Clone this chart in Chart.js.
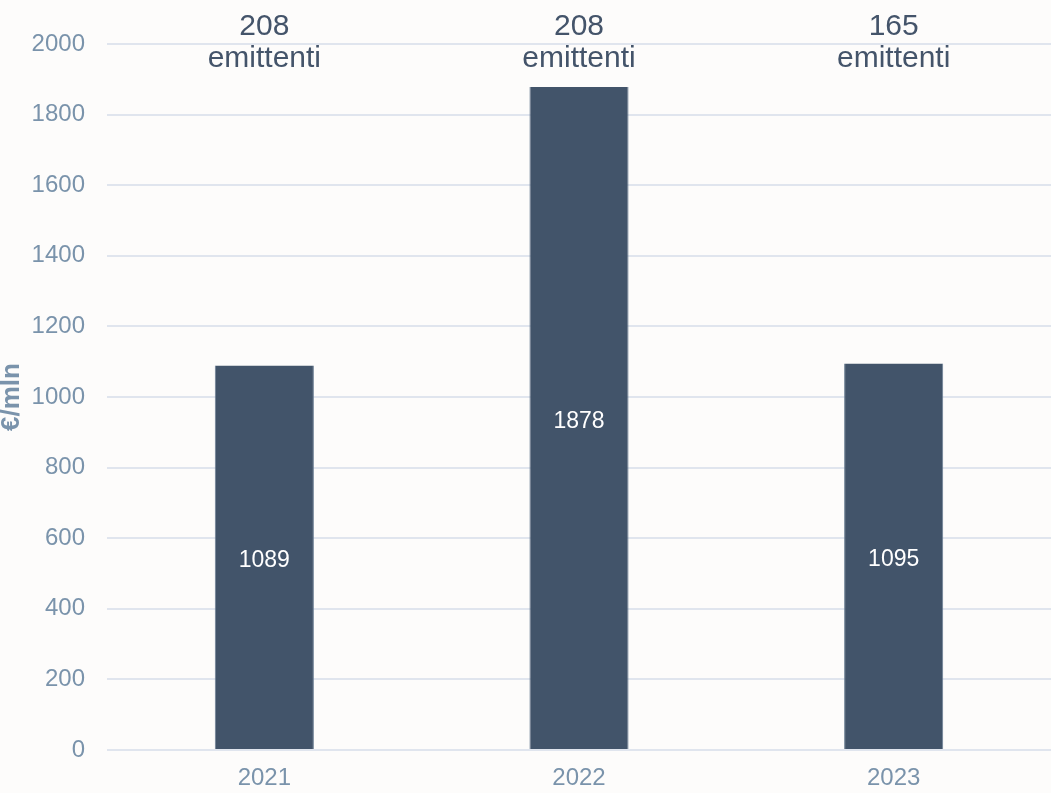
<!DOCTYPE html>
<html>
<head>
<meta charset="utf-8">
<script src="https://cdn.jsdelivr.net/npm/chart.js@4/dist/chart.umd.min.js"></script>
<style>
  html, body { margin: 0; padding: 0; background: #fdfcfb; }
  #wrap { width: 1051px; height: 793px; }
</style>
</head>
<body>
<div id="wrap"><canvas id="chart"></canvas></div>
<script>
const years = ['2021', '2022', '2023'];
const amounts = [1089, 1878, 1095];
const issuers = [208, 208, 165];

const FONT = '"Liberation Sans", Arial, sans-serif';

// numbers inside the bars + issuer count on top
const labelsPlugin = {
  id: 'labels',
  afterDatasetsDraw(chart) {
    const ctx = chart.ctx;
    const meta = chart.getDatasetMeta(0);
    const x = chart.scales.x;
    const y = chart.scales.y;
    ctx.save();
    ctx.textAlign = 'center';
    ctx.textBaseline = 'middle';
    meta.data.forEach((bar, i) => {
      ctx.fillStyle = '#ffffff';
      ctx.font = '23px ' + FONT;
      ctx.fillText(String(amounts[i]), bar.x, (bar.y + y.getPixelForValue(0)) / 2 + 3);

      const cx = x.getPixelForValue(i);
      ctx.fillStyle = '#44546a';
      ctx.font = '30px ' + FONT;
      ctx.fillText(String(issuers[i]), cx, chart.chartArea.top - 17);
      ctx.fillText('emittenti', cx, chart.chartArea.top + 15);
    });
    ctx.restore();
  }
};

new Chart(document.getElementById('chart'), {
  type: 'bar',
  data: {
    labels: years,
    datasets: [{
      data: amounts,
      backgroundColor: '#42546a',
      borderColor: '#6a7d93',
      borderWidth: { left: 1, right: 1, top: 0, bottom: 0 },
      categoryPercentage: 1,
      barPercentage: 0.315
    }]
  },
  options: {
    responsive: true,
    maintainAspectRatio: false,
    animation: false,
    layout: { padding: { top: 44, right: 0, left: 0, bottom: 0 } },
    plugins: {
      legend: { display: false },
      tooltip: { enabled: false }
    },
    scales: {
      x: {
        afterFit: s => { s.height = 43; },
        grid: { display: false, drawTicks: false, tickLength: 0 },
        border: { display: false },
        ticks: {
          color: '#7a93ab',
          font: { family: FONT, size: 24 },
          padding: 14
        }
      },
      y: {
        min: 0,
        max: 2000,
        afterFit: s => { s.width = 107; },
        border: { display: false },
        grid: { color: '#e0e5ee', lineWidth: 2, drawTicks: false, tickLength: 0 },
        ticks: {
          stepSize: 200,
          color: '#7a93ab',
          font: { family: FONT, size: 24 },
          padding: 22,
          callback: v => String(v)
        },
        title: {
          display: true,
          text: '€/mln',
          color: '#7a93ab',
          font: { family: FONT, size: 26, weight: 'bold' },
          padding: { top: -4, bottom: 0 }
        }
      }
    }
  },
  plugins: [labelsPlugin]
});
</script>
</body>
</html>
